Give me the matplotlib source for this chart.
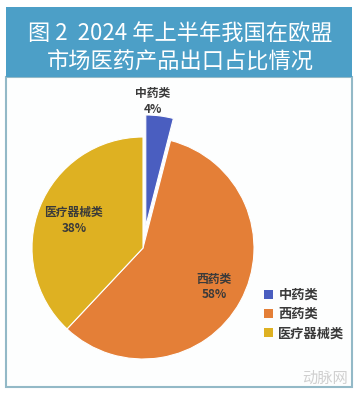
import numpy as np
import matplotlib
matplotlib.use("Agg")
import matplotlib.pyplot as plt
from matplotlib.patches import Rectangle, Patch

plt.rcParams['font.family'] = ['Noto Sans CJK SC', 'DejaVu Sans']

# data
categories = ['中药类', '西药类', '医疗器械类']
shares = [4, 58, 38]
colors = ['#4a5ec0', '#e47f37', '#deb122']
title_lines = ['图 2  2024 年上半年我国在欧盟', '市场医药产品出口占比情况']

W, H = 360, 395
fig = plt.figure(figsize=(W / 100, H / 100), dpi=100)
fig.patch.set_facecolor('white')

def px(x, y):
    # pixel coords (top-left origin) -> figure fraction
    return x / W, 1 - y / H

# frame + title band
band = Rectangle(px(6, 77), 346 / W, 70 / H, transform=fig.transFigure,
                 facecolor='#4c9fc7', edgecolor='none', zorder=-2)
panel = Rectangle(px(6, 387), 346 / W, 310 / H, transform=fig.transFigure,
                  facecolor='#fdfefe', edgecolor='#93b9c7', linewidth=1.5, zorder=-3)
fig.patches.extend([panel, band])

fig.text(*px(180, 33), title_lines[0], color='white', fontsize=16,
         ha='center', va='center')
fig.text(*px(180, 61), title_lines[1], color='white', fontsize=16,
         ha='center', va='center')

# pie
cx, cy, R = 143, 248, 111
ax = fig.add_axes([(cx - R) / W, (H - cy - R) / H, 2 * R / W, 2 * R / H])
ax.set_zorder(2)
wedges, _ = ax.pie(shares, colors=colors, startangle=90, counterclock=False,
                   explode=[0.2, 0, 0],
                   wedgeprops=dict(edgecolor='white', linewidth=0.8))
ax.set_xlim(-1, 1)
ax.set_ylim(-1, 1)
ax.set_aspect('equal')
ax.axis('off')
for w in wedges:
    w.set_clip_on(False)

# labels inside / above wedges
dists = [1.33, 0.73, 0.67]
offs = [-0.08, 0, 0]
start = 90.0
for name, val, d, o in zip(categories, shares, dists, offs):
    mid = np.deg2rad(start - val * 3.6 / 2)
    start -= val * 3.6
    ax.text(d * np.cos(mid) + o, d * np.sin(mid), f'{name}\n{val}%',
            ha='center', va='center', fontsize=8.5, color='#3a3a3a',
            fontweight='bold', linespacing=1.25, clip_on=False)

# legend
handles = [Patch(facecolor=c, edgecolor='none') for c in colors]
fig.legend(handles, categories, loc='upper left',
           bbox_to_anchor=px(252, 276), frameon=False,
           handlelength=0.7, handleheight=0.7, handletextpad=0.4,
           labelspacing=0.4, prop=dict(size=9.5, weight='bold'),
           labelcolor='#3a3a3a')

# watermark
fig.text(*px(325, 378), '动脉网', color='#d0d0d0', fontsize=11,
         ha='center', va='center')

fig.savefig('out.png', dpi=100)
